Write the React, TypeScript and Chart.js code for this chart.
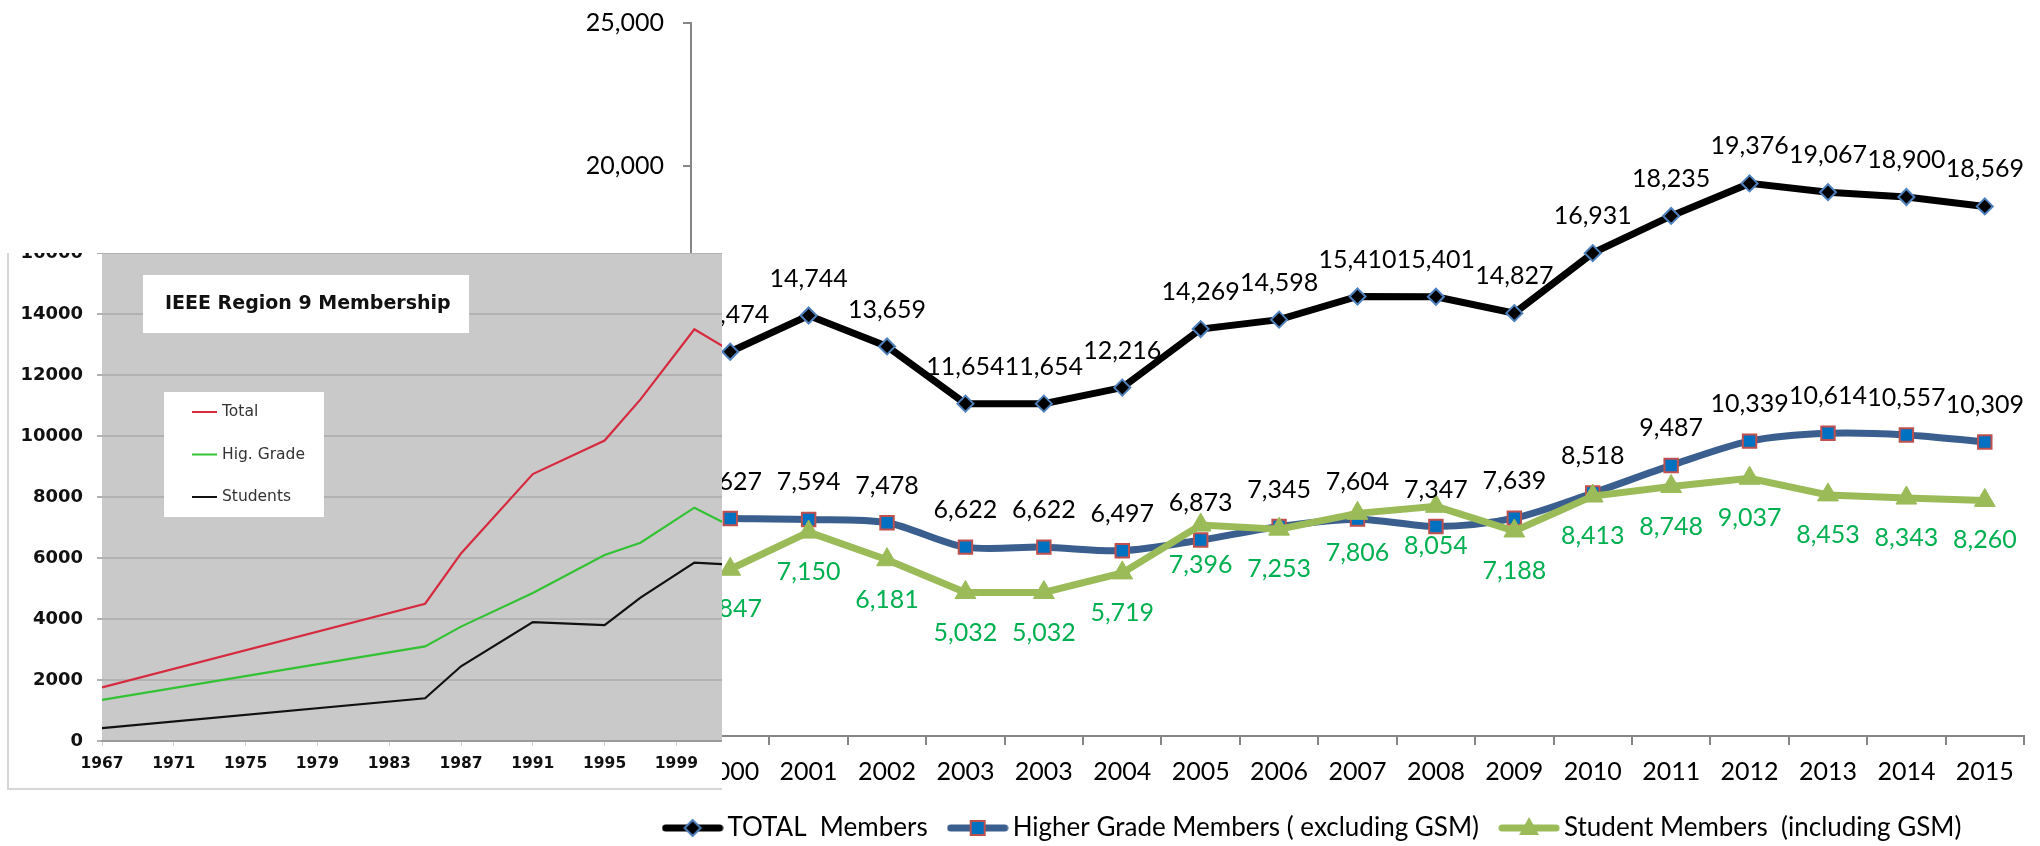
import React, { useEffect, useRef } from 'react';
import { Chart, registerables } from 'chart.js';

Chart.register(...registerables);

// ---------- Main chart data (2000-2015) ----------
const categories = ['2000', '2001', '2002', '2003', '2003', '2004', '2005', '2006', '2007', '2008', '2009', '2010', '2011', '2012', '2013', '2014', '2015'];
const totalMembers = [13474, 14744, 13659, 11654, 11654, 12216, 14269, 14598, 15410, 15401, 14827, 16931, 18235, 19376, 19067, 18900, 18569];
const higherGradeMembers = [7627, 7594, 7478, 6622, 6622, 6497, 6873, 7345, 7604, 7347, 7639, 8518, 9487, 10339, 10614, 10557, 10309];
const studentMembers = [5847, 7150, 6181, 5032, 5032, 5719, 7396, 7253, 7806, 8054, 7188, 8413, 8748, 9037, 8453, 8343, 8260];
const mainYTicks = [0, 5000, 10000, 15000, 20000, 25000];
const legendTexts = ['TOTAL  Members', 'Higher Grade Members ( excluding GSM)', 'Student Members  (including GSM)'];

// ---------- Inset chart data (1967-2002) ----------
const insetTitle = 'IEEE Region 9 Membership';
const insetSeriesNames = ['Total', 'Hig. Grade', 'Students'];
const insetYears = [1967, 1985, 1987, 1991, 1995, 1997, 2000, 2002];
const insetTotal = [1760, 4500, 6150, 8750, 9850, 11200, 13500, 12800];
const insetHigGrade = [1350, 3100, 3750, 4850, 6100, 6500, 7650, 7050];
const insetStudents = [420, 1400, 2450, 3900, 3800, 4700, 5850, 5780];
const insetXTicks = [1967, 1971, 1975, 1979, 1983, 1987, 1991, 1995, 1999];
const insetYTicks = [0, 2000, 4000, 6000, 8000, 10000, 12000, 14000, 16000];

const FONT = 'Lato';

function fmt(v: number) {
  return Number(v).toLocaleString('en-US');
}

function makeLegendImage(kind: number) {
  const c = document.createElement('canvas');
  c.width = 62;
  c.height = 26;
  const g = c.getContext('2d')!;
  const lineColors = ['#000000', '#3a5e8e', '#9bbb59'];
  g.strokeStyle = lineColors[kind];
  g.lineWidth = 7;
  g.lineCap = 'round';
  g.beginPath();
  g.moveTo(4, 13);
  g.lineTo(58, 13);
  g.stroke();
  const cx = 31, cy = 13;
  if (kind === 0) {
    g.beginPath();
    g.moveTo(cx, cy - 8);
    g.lineTo(cx + 8, cy);
    g.lineTo(cx, cy + 8);
    g.lineTo(cx - 8, cy);
    g.closePath();
    g.fillStyle = '#000';
    g.fill();
    g.lineWidth = 2;
    g.strokeStyle = '#4f81bd';
    g.stroke();
  } else if (kind === 1) {
    g.fillStyle = '#0070c0';
    g.fillRect(cx - 7, cy - 7, 14, 14);
    g.lineWidth = 2;
    g.strokeStyle = '#c0504d';
    g.strokeRect(cx - 7, cy - 7, 14, 14);
  } else {
    g.beginPath();
    g.moveTo(cx, cy - 11);
    g.lineTo(cx + 10, cy + 7);
    g.lineTo(cx - 10, cy + 7);
    g.closePath();
    g.fillStyle = '#9bbb59';
    g.fill();
  }
  return c;
}

const labelCfg = [
  { color: '#000000', offset: -37 },
  { color: '#000000', offset: -37 },
  { color: '#00b050', offset: 40 },
];

const dataLabelPlugin = {
  id: 'pointValueLabels',
  afterDatasetsDraw(chart: any) {
    const ctx = chart.ctx;
    chart.data.datasets.forEach((ds: any, i: number) => {
      const meta = chart.getDatasetMeta(i);
      const cfg = labelCfg[i];
      ctx.save();
      ctx.font = `25px ${FONT}`;
      ctx.fillStyle = cfg.color;
      ctx.textAlign = 'center';
      ctx.textBaseline = 'middle';
      meta.data.forEach((pt: any, j: number) => {
        ctx.fillText(fmt(ds.data[j]), pt.x, pt.y + cfg.offset);
      });
      ctx.restore();
    });
  },
};

// shift the bottom legend block so it is centred like the original
const legendShiftPlugin = {
  id: 'legendShift',
  afterLayout(chart: any) {
    const lg = chart.legend;
    if (lg) {
      lg.left += 33;
      lg.width = lg.right - lg.left;
    }
  },
};

const insetBackgroundPlugin = {
  id: 'insetBackground',
  beforeDraw(chart: any) {
    const { ctx, chartArea: a } = chart;
    ctx.save();
    ctx.fillStyle = '#c9c9c9';
    ctx.fillRect(a.left, a.top, a.right - a.left, a.bottom - a.top);
    ctx.restore();
  },
};

const insetBoxesPlugin = {
  id: 'insetBoxes',
  beforeDatasetsDraw(chart: any) {
    const { ctx, chartArea: a } = chart;
    ctx.save();
    // title box
    ctx.fillStyle = '#ffffff';
    ctx.fillRect(a.left + 41, a.top + 22, 326, 58);
    ctx.font = 'bold 19px "DejaVu Sans"';
    ctx.fillStyle = '#111111';
    ctx.textBaseline = 'middle';
    ctx.textAlign = 'left';
    ctx.fillText(insetTitle, a.left + 63, a.top + 51);
    // legend box
    ctx.fillStyle = '#ffffff';
    ctx.fillRect(a.left + 62, a.top + 139, 160, 125);
    const colors = ['#d62a3e', '#33c233', '#111111'];
    insetSeriesNames.forEach((name, i) => {
      const y = a.top + 159 + i * 42.5;
      ctx.strokeStyle = colors[i];
      ctx.lineWidth = 2;
      ctx.beginPath();
      ctx.moveTo(a.left + 90, y);
      ctx.lineTo(a.left + 115, y);
      ctx.stroke();
      ctx.font = '15.5px "DejaVu Sans"';
      ctx.fillStyle = '#333333';
      ctx.fillText(name, a.left + 120, y);
    });
    ctx.restore();
  },
};

export default function App() {
  const mainRef = useRef<HTMLCanvasElement>(null);
  const insetRef = useRef<HTMLCanvasElement>(null);

  useEffect(() => {
    const legendImages = [0, 1, 2].map((k) => makeLegendImage(k));
    const tickFont = { family: FONT, size: 25 };

    const main = new Chart(mainRef.current as HTMLCanvasElement, {
      type: 'line',
      data: {
        labels: categories,
        datasets: [
          {
            label: legendTexts[0],
            data: totalMembers,
            borderColor: '#000000',
            borderWidth: 7,
            tension: 0,
            pointStyle: 'rectRot',
            pointRadius: 8,
            pointBackgroundColor: '#000000',
            pointBorderColor: '#4f81bd',
            pointBorderWidth: 2,
            order: 1,
          },
          {
            label: legendTexts[1],
            data: higherGradeMembers,
            borderColor: '#3a5e8e',
            borderWidth: 7,
            tension: 0.3,
            pointStyle: 'rect',
            pointRadius: 9.5,
            pointBackgroundColor: '#0070c0',
            pointBorderColor: '#c0504d',
            pointBorderWidth: 2,
            order: 2,
          },
          {
            label: legendTexts[2],
            data: studentMembers,
            borderColor: '#9bbb59',
            borderWidth: 7,
            tension: 0,
            pointStyle: 'triangle',
            pointRadius: 12,
            pointBackgroundColor: '#9bbb59',
            pointBorderColor: '#9bbb59',
            pointBorderWidth: 1,
            order: 0,
          },
        ],
      },
      options: {
        responsive: false,
        animation: false,
        layout: { padding: { top: 23, right: 16, left: 0, bottom: 0 } },
        plugins: {
          tooltip: { enabled: false },
          legend: {
            position: 'bottom',
            labels: {
              usePointStyle: true,
              pointStyleWidth: 44,
              padding: 28,
              color: '#000000',
              font: { family: FONT, size: 26 },
              generateLabels: () =>
                legendTexts.map((text, i) => ({
                  text,
                  fillStyle: 'transparent',
                  strokeStyle: 'transparent',
                  lineWidth: 0,
                  pointStyle: legendImages[i],
                  hidden: false,
                  datasetIndex: i,
                  fontColor: '#000000',
                })),
            },
          },
        },
        scales: {
          x: {
            offset: true,
            afterFit: (s: any) => {
              s.height = 51;
            },
            grid: { offset: true, drawOnChartArea: false, tickLength: 9, color: '#868686', lineWidth: 2 },
            border: { color: '#868686', width: 2 },
            ticks: { font: tickFont, color: '#000000', padding: 12, maxRotation: 0, autoSkip: false },
          },
          y: {
            min: mainYTicks[0],
            max: mainYTicks[mainYTicks.length - 1],
            afterFit: (s: any) => {
              s.width = 116;
              s.paddingTop = 10;
              s.paddingBottom = 10;
            },
            grid: { drawOnChartArea: false, tickLength: 8, color: '#868686', lineWidth: 2 },
            border: { color: '#868686', width: 2 },
            ticks: {
              stepSize: mainYTicks[1] - mainYTicks[0],
              font: tickFont,
              color: '#000000',
              padding: 19,
              callback: (v: any) => fmt(v),
            },
          },
        },
      },
      plugins: [dataLabelPlugin, legendShiftPlugin],
    } as any);

    const insetBold = (size: number) => ({ family: 'DejaVu Sans', weight: 'bold' as const, size });
    const inset = new Chart(insetRef.current as HTMLCanvasElement, {
      type: 'line',
      data: {
        datasets: [
          { label: insetSeriesNames[0], data: insetYears.map((x, i) => ({ x, y: insetTotal[i] })), borderColor: '#d62a3e', borderWidth: 2.2, pointRadius: 0, tension: 0 },
          { label: insetSeriesNames[1], data: insetYears.map((x, i) => ({ x, y: insetHigGrade[i] })), borderColor: '#33c233', borderWidth: 2.2, pointRadius: 0, tension: 0 },
          { label: insetSeriesNames[2], data: insetYears.map((x, i) => ({ x, y: insetStudents[i] })), borderColor: '#111111', borderWidth: 2.2, pointRadius: 0, tension: 0 },
        ],
      },
      options: {
        responsive: false,
        animation: false,
        layout: { padding: { top: 40, left: 0, right: 0, bottom: 0 } },
        plugins: { legend: { display: false }, tooltip: { enabled: false } },
        scales: {
          x: {
            type: 'linear',
            min: 1967,
            max: 2001.54,
            afterBuildTicks: (s: any) => {
              s.ticks = insetXTicks.map((v) => ({ value: v }));
            },
            afterFit: (s: any) => {
              s.height = 47;
            },
            grid: { drawOnChartArea: false, tickLength: 5, color: '#d0d0d0', lineWidth: 1 },
            border: { color: '#9a9a9a', width: 2 },
            ticks: { font: insetBold(15.5), color: '#111111', padding: 9, maxRotation: 0, autoSkip: false, callback: (v: any) => String(v) },
          },
          y: {
            min: insetYTicks[0],
            max: insetYTicks[insetYTicks.length - 1],
            afterBuildTicks: (s: any) => {
              s.ticks = insetYTicks.map((v) => ({ value: v }));
            },
            afterFit: (s: any) => {
              s.width = 93;
              s.paddingTop = 10;
              s.paddingBottom = 10;
            },
            grid: { color: '#b2b2b2', lineWidth: 2, tickLength: 5 },
            border: { display: false },
            ticks: { font: insetBold(18), color: '#111111', padding: 14, callback: (v: any) => String(v) },
          },
        },
      },
      plugins: [insetBackgroundPlugin, insetBoxesPlugin],
    } as any);

    return () => {
      main.destroy();
      inset.destroy();
    };
  }, []);

  return (
    <div style={{ position: 'absolute', left: 0, top: 0, width: 2040, height: 846, overflow: 'hidden', background: '#ffffff' }}>
      <canvas ref={mainRef} width={1465} height={851} style={{ position: 'absolute', left: 575, top: 0 }} />
      <div
        style={{
          position: 'absolute',
          left: 7,
          top: 253,
          width: 715,
          height: 537,
          boxSizing: 'border-box',
          borderLeft: '2px solid #d6d6d6',
          borderBottom: '2px solid #d6d6d6',
          overflow: 'hidden',
          background: '#ffffff',
        }}
      >
        <canvas ref={insetRef} width={713} height={575} style={{ position: 'absolute', left: 0, top: -40 }} />
      </div>
    </div>
  );
}
